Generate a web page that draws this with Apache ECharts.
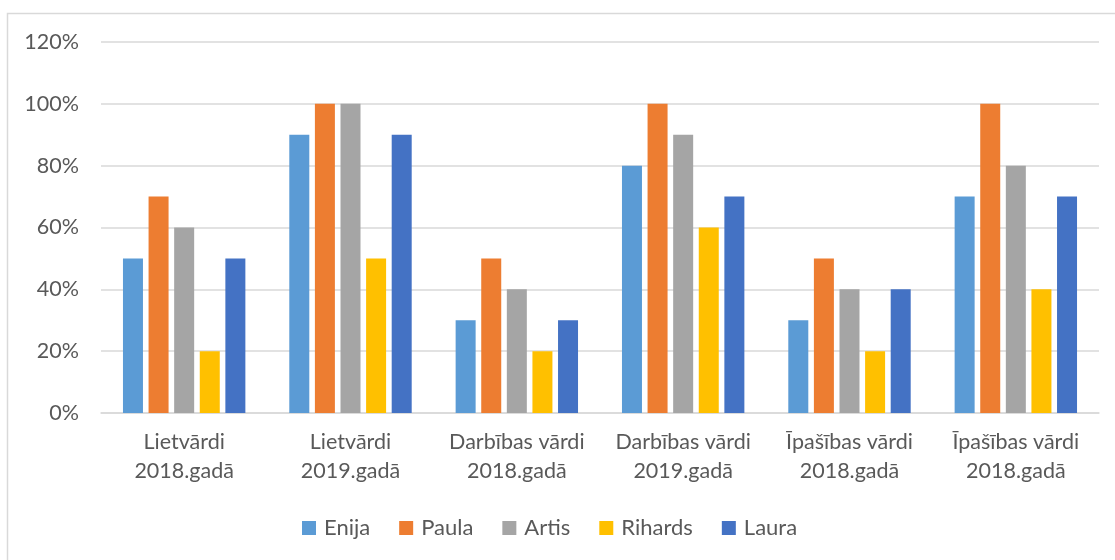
<!DOCTYPE html>
<html>
<head>
<meta charset="utf-8">
<script src="https://cdn.jsdelivr.net/npm/echarts@6/dist/echarts.min.js"></script>
<style>
html,body{margin:0;padding:0;background:#fff;}
#c{width:1115px;height:560px;}
</style>
</head>
<body>
<div id="c"></div>
<script>
const categories = ["Lietvārdi\n2018.gadā", "Lietvārdi\n2019.gadā", "Darbības vārdi\n2018.gadā", "Darbības vārdi\n2019.gadā", "Īpašības vārdi\n2018.gadā", "Īpašības vārdi\n2018.gadā"];
const seriesNames = ["Enija", "Paula", "Artis", "Rihards", "Laura"];
const enija = [50, 90, 30, 80, 30, 70];
const paula = [70, 100, 50, 100, 50, 100];
const artis = [60, 100, 40, 90, 40, 80];
const rihards = [20, 50, 20, 60, 20, 40];
const laura = [50, 90, 30, 70, 40, 70];
const colors = ["#5B9BD5", "#ED7D31", "#A5A5A5", "#FFC000", "#4472C4"];
const yTicks = {min: 0, max: 120, interval: 20};

const values = [enija, paula, artis, rihards, laura];
const font = "Lato, 'Open Sans', sans-serif";
const chart = echarts.init(document.getElementById('c'), null, {renderer: 'canvas'});
chart.setOption({
  animation: false,
  backgroundColor: '#fff',
  color: colors,
  graphic: [{
    type: 'rect', shape: {x: 7.5, y: 13.5, width: 1200, height: 700},
    style: {fill: 'none', stroke: '#d9d9d9', lineWidth: 1.5}, silent: true
  }],
  grid: {left: 101, right: 16, top: 42, bottom: 147},
  legend: {
    data: seriesNames, bottom: 16, left: 297,
    itemWidth: 14, itemHeight: 14, itemGap: 29, icon: 'rect',
    textStyle: {fontFamily: font, fontSize: 22, color: '#595959', padding: [0, 0, 0, 3]}
  },
  xAxis: {
    type: 'category', data: categories,
    axisLine: {lineStyle: {color: '#d9d9d9', width: 1.5}},
    axisTick: {show: false},
    axisLabel: {fontFamily: font, fontSize: 21.5, color: '#595959', lineHeight: 29, margin: 15, interval: 0}
  },
  yAxis: {
    type: 'value', min: yTicks.min, max: yTicks.max, interval: yTicks.interval,
    axisLine: {show: false}, axisTick: {show: false},
    splitLine: {lineStyle: {color: '#d9d9d9', width: 1.5}},
    axisLabel: {fontFamily: font, fontSize: 21.5, color: '#595959', margin: 22, formatter: '{value}%'}
  },
  series: seriesNames.map((n, i) => ({
    name: n, type: 'bar', data: values[i], barWidth: 20, barGap: '28%',
    itemStyle: {color: colors[i]}
  }))
});
</script>
</body>
</html>
